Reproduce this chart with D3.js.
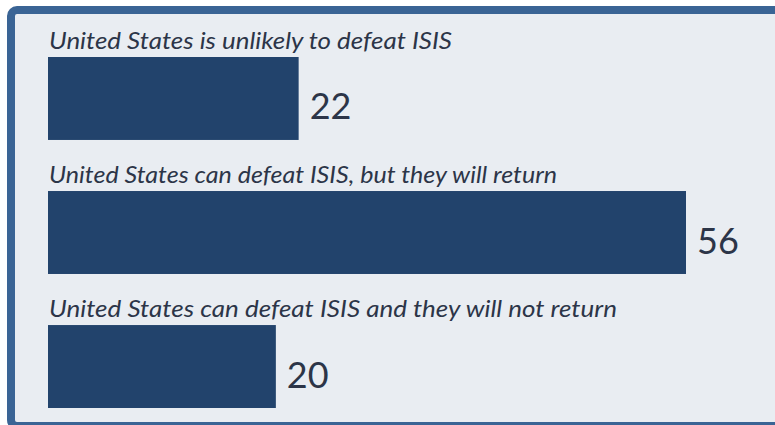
<!DOCTYPE html>
<html lang="en">
<head>
  <meta charset="UTF-8">
  <title>Can the United States defeat ISIS?</title>
  <script src="https://d3js.org/d3.v7.min.js"></script>
  <style>
    html, body {
      margin: 0;
      padding: 0;
      background: #fff;
    }
    .label {
      font-family: Lato, "Open Sans", sans-serif;
      font-style: italic;
      font-size: 23.5px;
      fill: #2c3548;
    }
    .value {
      font-family: Lato, "Open Sans", sans-serif;
      font-size: 36px;
      fill: #2c3548;
    }
  </style>
</head>
<body>
  <svg id="chart" width="775" height="425"></svg>

  <script>
    const answers = [
      "United States is unlikely to defeat ISIS",
      "United States can defeat ISIS, but they will return",
      "United States can defeat ISIS and they will not return"
    ];
    const percents = [22, 56, 20];
    // measured label widths in the picture, text is a narrow humanist italic
    const labelWidths = [403, 508, 568];

    const svg = d3.select("#chart");

    // panel background with thick blue frame (right edge runs off the picture)
    svg.append("rect")
      .attr("x", 11)
      .attr("y", 10)
      .attr("width", 800)
      .attr("height", 416)
      .attr("rx", 6)
      .attr("fill", "#e9edf2")
      .attr("stroke", "#3a6495")
      .attr("stroke-width", 8);

    const x = d3.scaleLinear()
      .domain([0, 56])
      .range([48, 686]);

    const y = d3.scaleBand()
      .domain(answers)
      .range([57, 408])
      .paddingInner(0.381)
      .paddingOuter(0);

    const rows = svg.selectAll(".row")
      .data(answers)
      .enter()
      .append("g")
      .attr("class", "row");

    rows.append("rect")
      .attr("x", x(0))
      .attr("y", d => y(d))
      .attr("width", (d, i) => x(percents[i]) - x(0))
      .attr("height", y.bandwidth())
      .attr("fill", "#22436c");

    rows.append("text")
      .attr("class", "label")
      .attr("x", x(0) + 1)
      .attr("y", d => y(d) - 8)
      .attr("textLength", (d, i) => labelWidths[i])
      .attr("lengthAdjust", "spacingAndGlyphs")
      .text(d => d);

    rows.append("text")
      .attr("class", "value")
      .attr("x", (d, i) => x(percents[i]) + 11)
      .attr("y", d => y(d) + y.bandwidth() / 2 + 21)
      .text((d, i) => percents[i]);
  </script>
</body>
</html>
